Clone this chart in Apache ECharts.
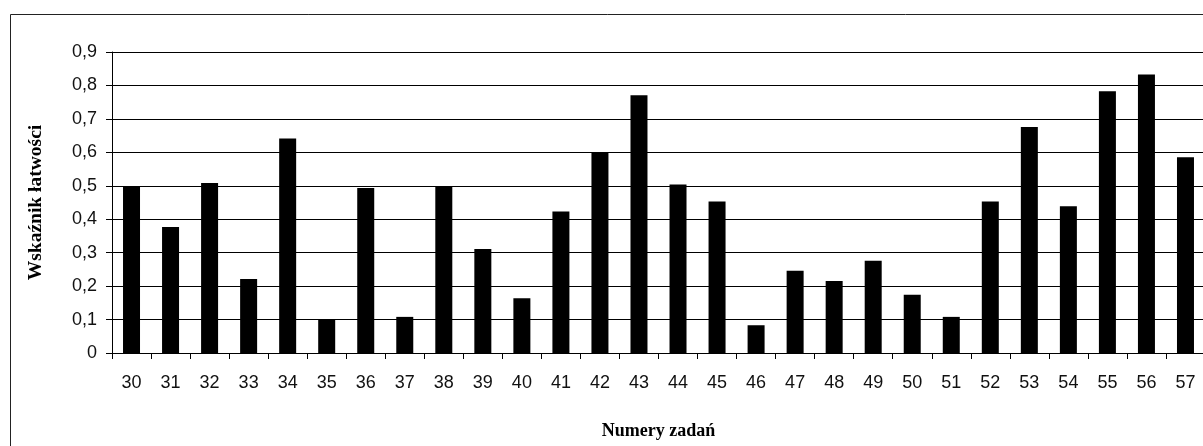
<!DOCTYPE html>
<html>
<head>
<meta charset="utf-8">
<script src="https://cdn.jsdelivr.net/npm/echarts@6/dist/echarts.min.js"></script>
<style>
  html, body { margin: 0; padding: 0; background: #fff; }
  #chart { width: 1203px; height: 446px; }
</style>
</head>
<body>
<div id="chart"></div>
<script>
// numery zadań 30..57
const categories = ["30", "31", "32", "33", "34", "35", "36", "37", "38", "39",
  "40", "41", "42", "43", "44", "45", "46", "47", "48", "49",
  "50", "51", "52", "53", "54", "55", "56", "57"];
// wskaźnik łatwości
const values = [0.497, 0.377, 0.508, 0.221, 0.641, 0.099, 0.493, 0.108, 0.497, 0.311,
  0.164, 0.423, 0.600, 0.771, 0.504, 0.453, 0.083, 0.246, 0.215, 0.276,
  0.174, 0.108, 0.453, 0.676, 0.439, 0.783, 0.833, 0.585];
const yTicks = [0, 0.1, 0.2, 0.3, 0.4, 0.5, 0.6, 0.7, 0.8, 0.9];

const myChart = echarts.init(document.getElementById("chart"));

const option = {
  animation: false,
  backgroundColor: "#fff",
  graphic: [
    {
      type: "rect",
      left: 8,
      top: 12,
      shape: { width: 1400, height: 600 },
      style: { fill: "none", stroke: "#222", lineWidth: 1 },
      silent: true,
    },
  ],
  grid: {
    left: 112,
    top: 52,
    right: -2,
    bottom: 93,
    outerBoundsMode: "none",
  },
  xAxis: {
    type: "category",
    data: categories,
    name: "Numery zadań",
    nameLocation: "middle",
    nameGap: 69,
    nameTextStyle: {
      fontFamily: "Liberation Serif",
      fontWeight: "bold",
      fontSize: 18,
      color: "#000",
    },
    axisLine: { lineStyle: { color: "#000", width: 1 } },
    axisTick: { show: true, length: 6, inside: false, lineStyle: { color: "#000" } },
    axisLabel: {
      margin: 21,
      fontFamily: "Liberation Sans",
      fontSize: 18,
      color: "#111",
    },
  },
  yAxis: {
    type: "value",
    min: 0,
    max: 0.9,
    interval: 0.1,
    name: "Wskaźnik łatwości",
    nameLocation: "middle",
    nameRotate: 90,
    nameGap: 66,
    nameTextStyle: {
      fontFamily: "Liberation Serif",
      fontWeight: "bold",
      fontSize: 19.5,
      color: "#000",
    },
    axisLine: { show: true, lineStyle: { color: "#000", width: 1 } },
    axisTick: { show: true, length: 6, lineStyle: { color: "#000" } },
    splitLine: { show: true, lineStyle: { color: "#000", width: 1 } },
    axisLabel: {
      margin: 15,
      fontFamily: "Liberation Sans",
      fontSize: 18,
      color: "#111",
      formatter: function (v) {
        const t = yTicks.find((x) => Math.abs(x - v) < 1e-6);
        const s = t === 0 ? "0" : (t !== undefined ? t : v).toFixed(1);
        return s.replace(".", ",");
      },
    },
  },
  series: [
    {
      type: "bar",
      data: values,
      barWidth: 17,
      itemStyle: { color: "#000" },
    },
  ],
};

myChart.setOption(option);
</script>
</body>
</html>
